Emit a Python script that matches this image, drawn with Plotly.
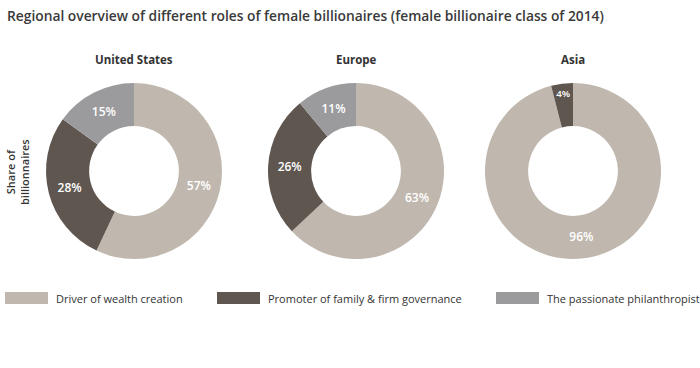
import plotly.graph_objects as go

regions = ["United States", "Europe", "Asia"]
roles = ["Driver of wealth creation", "Promoter of family & firm governance", "The passionate philanthropist"]
us_values = [57, 28, 15]
europe_values = [63, 26, 11]
asia_values = [96, 4, 0]
colors = ["#c0b8ae", "#5f5650", "#9b9b9d"]

series = [us_values, europe_values, asia_values]
centers = [134, 356, 573]  # pixel centers
W, H = 700, 368
R = 88
cy = 171

fig = go.Figure()
for name, vals, cx in zip(regions, series, centers):
    fig.add_trace(go.Pie(
        labels=roles, values=vals, name=name,
        hole=0.51, sort=False, direction="clockwise", rotation=0,
        marker=dict(colors=colors, line=dict(width=0)),
        texttemplate=[f"{v}%" if v > 0 else "" for v in vals],
        textposition="inside", insidetextorientation="horizontal",
        textfont=dict(family="Open Sans", size=12, color="white", weight=600),
        domain=dict(x=[(cx - R) / W, (cx + R) / W], y=[(H - cy - R) / H, (H - cy + R) / H]),
        showlegend=False, hoverinfo="label+percent",
    ))
    fig.add_annotation(text=f"<b>{name}</b>", x=cx / W, y=1 - 59 / H, xref="paper", yref="paper",
                       showarrow=False, font=dict(family="Open Sans", size=11.5, color="#333333"),
                       xanchor="center", yanchor="middle")

# title
fig.add_annotation(text="Regional overview of different roles of female billionaires (female billionaire class of 2014)",
                   x=5 / W, y=1 - 16 / H, xref="paper", yref="paper", showarrow=False,
                   xanchor="left", yanchor="middle",
                   font=dict(family="Open Sans", size=13.8, color="#3a3a3a", weight=600))
# y label
fig.add_annotation(text="Share of<br>billionnaires", x=17 / W, y=1 - 172 / H, xref="paper", yref="paper",
                   showarrow=False, textangle=-90, xanchor="center", yanchor="middle",
                   font=dict(family="Open Sans", size=11, color="#333333", weight=600))

# legend
leg_x = [5, 217, 496]
for lx, role, col in zip(leg_x, roles, colors):
    fig.add_shape(type="rect", xref="paper", yref="paper",
                  x0=lx / W, x1=(lx + 43) / W, y0=1 - 304 / H, y1=1 - 292 / H,
                  fillcolor=col, line=dict(width=0))
    fig.add_annotation(text=role, x=(lx + 49) / W, y=1 - 298 / H, xref="paper", yref="paper",
                       showarrow=False, xanchor="left", yanchor="middle",
                       font=dict(family="Open Sans", size=11, color="#333333"))

fig.update_layout(width=W, height=H, margin=dict(l=0, r=0, t=0, b=0),
                  paper_bgcolor="white", plot_bgcolor="white")
fig.write_html("out.html", config={"displayModeBar": False},
               post_script="document.body.style.margin='0';")
